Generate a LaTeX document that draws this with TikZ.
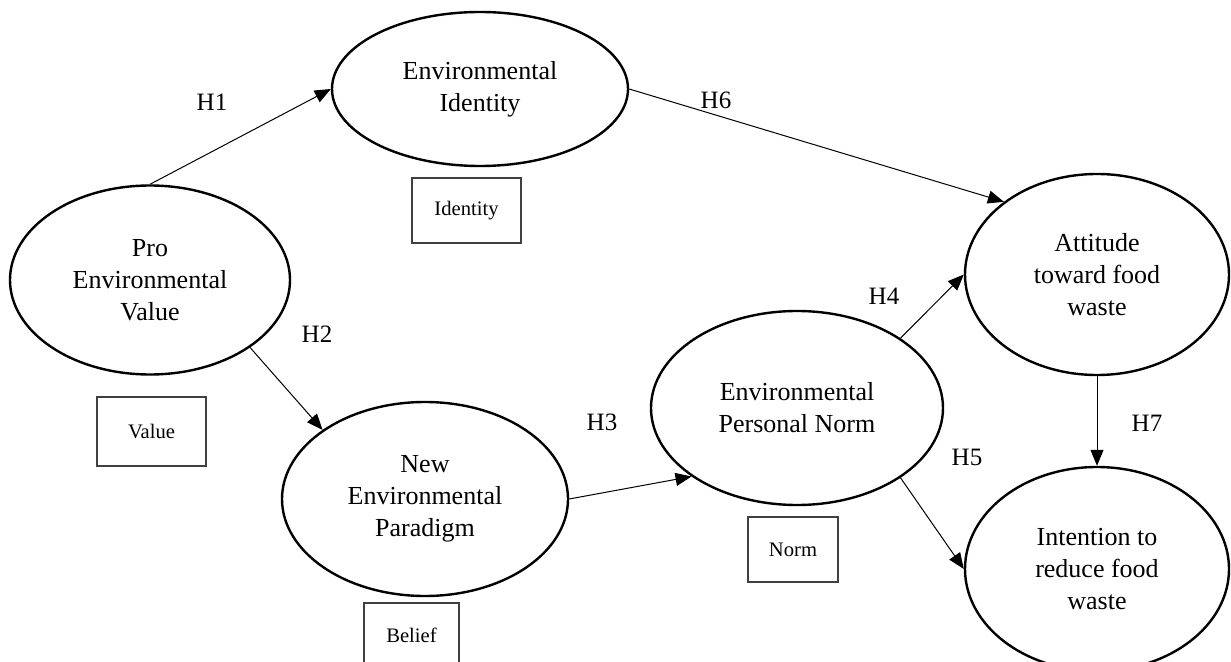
\documentclass[tikz,border=0pt]{standalone}
\usepackage{fontspec}
\setmainfont{Liberation Serif}
\usetikzlibrary{shapes.geometric,arrows.meta}

\begin{document}
\begin{tikzpicture}[x=0.5pt, y=-0.5pt,
  construct/.style={draw, ellipse, line width=1.2pt, inner sep=0pt, align=center, font=\fontsize{13}{16}\selectfont},
  itembox/.style={draw=black!75, line width=0.6pt, inner sep=0pt, font=\fontsize{10.3}{12}\selectfont},
  hyp/.style={-{Triangle[length=8pt,width=6.5pt]}, line width=0.5pt},
  hlabel/.style={font=\fontsize{12.5}{14}\selectfont}]
\clip (0,0) rectangle (1231,662);

\node[construct, minimum width=148pt, minimum height=77pt] (idn) at (480,89) {Environmental\\Identity};
\node[construct, minimum width=140pt, minimum height=94.5pt] (pev) at (150,280) {Pro\\Environmental\\Value};
\node[construct, minimum width=143pt, minimum height=97pt] (nep) at (425,499) {New\\Environmental\\Paradigm};
\node[construct, minimum width=146pt, minimum height=97pt] (nor) at (797,408) {Environmental\\Personal Norm};
\node[construct, minimum width=132pt, minimum height=100.5pt] (att) at (1097,274.5) {Attitude\\toward food\\waste};
\node[construct, minimum width=132pt, minimum height=102pt] (int) at (1097,569) {Intention to\\reduce food\\waste};

\node[itembox, minimum width=54.5pt, minimum height=32.5pt] (idnbox) at (466.5,210.5) {Identity};
\node[itembox, minimum width=54.5pt, minimum height=34.5pt] (pevbox) at (151.5,431.5) {Value};
\node[itembox, minimum width=47.5pt, minimum height=32.5pt] (nepbox) at (411.5,635.5) {Belief};
\node[itembox, minimum width=45pt, minimum height=32.5pt] (norbox) at (793,549.5) {Norm};

\draw[hyp] (pev.north) -- (idn.west);
\draw[hyp] (idn.east) -- (att.142);
\draw[hyp] (pev.-34) -- (nep.146);
\draw[hyp] (nep.east) -- (nor.213);
\draw[hyp] (nor.34) -- (att.west);
\draw[hyp] (nor.-34) -- (int.west);
\draw[hyp] (att.south) -- (int.north);

\node[hlabel] (h1) at (212,102) {H1};
\node[hlabel] (h6) at (716,100) {H6};
\node[hlabel] (h2) at (317,334) {H2};
\node[hlabel] (h3) at (602,422) {H3};
\node[hlabel] (h4) at (884,296) {H4};
\node[hlabel] (h5) at (967,457) {H5};
\node[hlabel] (h7) at (1147,423) {H7};

\end{tikzpicture}
\end{document}
